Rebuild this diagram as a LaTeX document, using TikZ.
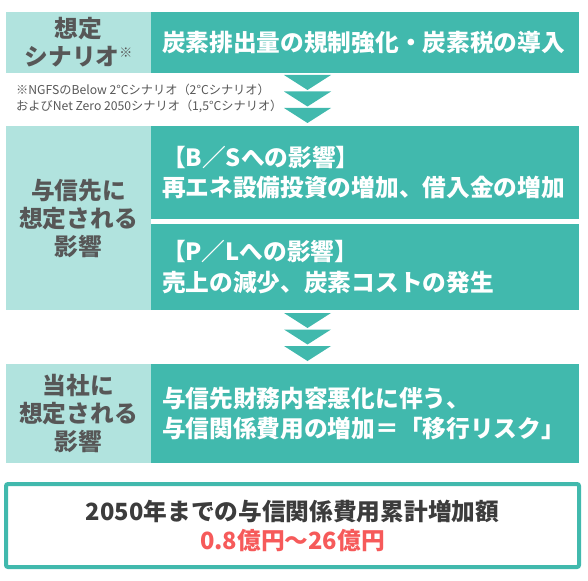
\documentclass[tikz,border=0pt]{standalone}
\usepackage{fontspec}
\setmainfont{Noto Sans CJK JP}
\usetikzlibrary{positioning}
\definecolor{tealdark}{HTML}{41B9AD}
\definecolor{teallight}{HTML}{B1E3DE}
\definecolor{labelgray}{HTML}{575757}
\definecolor{totalgray}{HTML}{3C3C3C}
\definecolor{totalred}{HTML}{F65A5A}
\begin{document}
\begin{tikzpicture}[x=1pt,y=-1pt,
    head/.style={fill=teallight,text=labelgray,minimum width=145pt,inner sep=0pt,align=center,font=\fontsize{23.7}{28}\selectfont\bfseries},
    body/.style={fill=tealdark,text=white,minimum width=428pt,inner xsep=11pt,inner ysep=0pt,text width=406pt,align=left,font=\fontsize{23.7}{30.5}\selectfont\bfseries}]
    \useasboundingbox (0,0) rectangle (588,580);

    \node[head,minimum height=61pt] (scen) at (78.5,42.5) {想定\\シナリオ\raisebox{8pt}{\fontsize{13}{13}\selectfont ※}};
    \node[body,minimum height=61pt] (scenbody) at (365,42.5) {炭素排出量の規制強化・炭素税の導入};

    \node[anchor=west,inner sep=0pt,align=left,text=labelgray,font=\fontsize{12.2}{16}\selectfont] (note) at (16,98) {※NGFSのBelow 2°Cシナリオ（2°Cシナリオ）\\およびNet Zero 2050シナリオ（1,5°Cシナリオ）};

    \node[head,minimum height=184pt] (client) at (78.5,218) {与信先に\\想定される\\影響};
    \node[body,minimum height=93pt] (clientbs) at (365,172.5) {【B／Sへの影響】\\再エネ設備投資の増加、借入金の増加};
    \node[body,minimum height=86pt] (clientpl) at (365,267) {【P／Lへの影響】\\売上の減少、炭素コストの発生};

    \node[head,minimum height=99pt] (own) at (78.5,413.5) {当社に\\想定される\\影響};
    \node[body,minimum height=99pt] (ownbody) at (365,413.5) {与信先財務内容悪化に伴う、\\与信関係費用の増加＝「移行リスク」};

    \node[draw=tealdark,line width=4pt,rounded corners=2pt,fill=white,minimum width=573pt,minimum height=83pt,align=center,text=totalgray,font=\fontsize{23.7}{29}\selectfont\bfseries] (total) at (292.5,525.5) {2050年までの与信関係費用累計増加額\\{\color{totalred}0.8億円～26億円}};

    \foreach \y in {75,91.5,108,313,329.5,346}
        \fill[tealdark] (284,\y) -- (331,\y) -- (307.5,\y+15) -- cycle;
\end{tikzpicture}
\end{document}
